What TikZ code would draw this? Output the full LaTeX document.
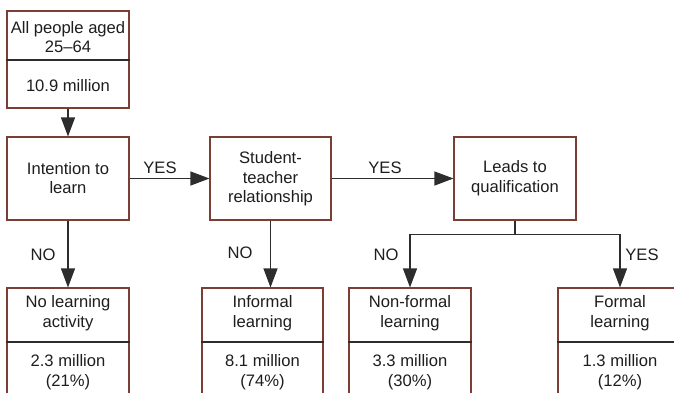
\documentclass[tikz,border=0pt]{standalone}
\usepackage{fontspec}
\setmainfont{Liberation Sans}
\usetikzlibrary{arrows.meta}
\definecolor{boxc}{RGB}{122,62,52}
\definecolor{linec}{RGB}{45,45,45}
\definecolor{txt}{RGB}{30,30,30}
\begin{document}
\begin{tikzpicture}[x=1pt,y=-1pt,
  box/.style={draw=boxc, line width=1.1pt, fill=white, inner sep=0pt, minimum width=122pt},
  lbl/.style={font=\fontsize{16.6}{19.5}\selectfont, text=txt, align=center, inner sep=0pt},
  conn/.style={draw=linec, line width=1.1pt},
  arr/.style={conn, -{Triangle[length=19pt,width=14pt]}},
  divider/.style={draw=linec, line width=1.1pt}
]
\useasboundingbox (0,0) rectangle (674,392);
\clip (0,0) rectangle (674,392);

% boxes
\node[box, minimum height=97pt] (top) at (68,59.5) {};
\node[box, minimum height=83pt] (intention) at (68,178.5) {};
\node[box, minimum height=83pt, minimum width=121pt] (student) at (270.5,178.5) {};
\node[box, minimum height=83pt] (leads) at (515,178.5) {};
\node[box, minimum height=132pt] (nolearn) at (68,354) {};
\node[box, minimum height=132pt, minimum width=121pt] (informal) at (262.5,354) {};
\node[box, minimum height=132pt] (nonformal) at (410,354) {};
\node[box, minimum height=132pt, minimum width=124pt] (formal) at (620,354) {};

% dividers
\draw[divider] (top.west |- 0,60) -- (top.east |- 0,60);
\foreach \b in {nolearn,informal,nonformal,formal}
  \draw[divider] (\b.west |- 0,342) -- (\b.east |- 0,342);

% texts
\node[lbl] (t1) at (68,37) {All people aged\\25–64};
\node[lbl] (t1b) at (68,86) {10.9 million};
\node[lbl] (t2) at (68,178) {Intention to\\learn};
\node[lbl] (t3) at (270.5,179) {Student-\\teacher\\relationship};
\node[lbl] (t4) at (515,178) {Leads to\\qualification};
\node[lbl] (t5) at (68,313) {No learning\\activity};
\node[lbl] (t5b) at (68,372) {2.3 million\\(21\%)};
\node[lbl] (t6) at (262.5,313) {Informal\\learning};
\node[lbl] (t6b) at (262.5,372) {8.1 million\\(74\%)};
\node[lbl] (t7) at (410,313) {Non-formal\\learning};
\node[lbl] (t7b) at (410,372) {3.3 million\\(30\%)};
\node[lbl] (t8) at (620,313) {Formal\\learning};
\node[lbl] (t8b) at (620,372) {1.3 million\\(12\%)};

% connectors
\draw[arr] (top.south) -- (intention.north);
\draw[arr] (intention.east) -- (student.west);
\draw[arr] (student.east) -- (leads.west);
\draw[arr] (intention.south) -- (nolearn.north);
\draw[arr] (student.south) -- (student.south |- informal.north);
\draw[conn] (leads.south) -- ++(0,14) coordinate (split);
\draw[arr] (split) -| (nonformal.north);
\draw[arr] (split) -| (formal.north);

% connector labels
\node[lbl] (y1) at (160,168) {YES};
\node[lbl] (y2) at (385,168) {YES};
\node[lbl] (n1) at (43,255) {NO};
\node[lbl] (n2) at (240,253) {NO};
\node[lbl] (n3) at (386,255) {NO};
\node[lbl] (y3) at (642,255) {YES};
\end{tikzpicture}
\end{document}
